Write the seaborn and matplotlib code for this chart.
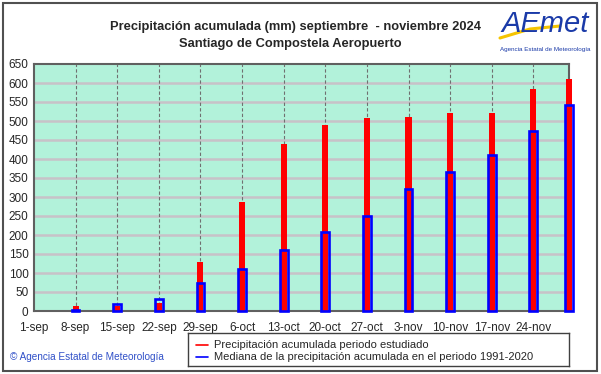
import numpy as np
import pandas as pd
import matplotlib
matplotlib.use("Agg")
import matplotlib.pyplot as plt
import seaborn as sns

# Data (mm)
fechas = ["2024-09-08", "2024-09-15", "2024-09-22", "2024-09-29", "2024-10-06",
          "2024-10-13", "2024-10-20", "2024-10-27", "2024-11-03", "2024-11-10",
          "2024-11-17", "2024-11-24", "2024-11-30"]
precip_2024 = [13, 14, 21, 128, 287, 439, 489, 508, 510, 520, 522, 583, 610]
mediana_9120 = [3, 19, 32, 75, 111, 160, 209, 249, 320, 365, 411, 474, 542]
etiquetas_x = ["1-sep", "8-sep", "15-sep", "22-sep", "29-sep", "6-oct", "13-oct",
               "20-oct", "27-oct", "3-nov", "10-nov", "17-nov", "24-nov"]

inicio = pd.Timestamp("2024-09-01")
dias = [(pd.Timestamp(f) - inicio).days for f in fechas]
df = pd.DataFrame({"dia": dias, "precip": precip_2024, "mediana": mediana_9120})

sns.set_theme(style="white")
plt.rcParams["font.family"] = ["Liberation Sans", "DejaVu Sans"]

fig = plt.figure(figsize=(6.01, 3.74), dpi=100)
fig.patch.set_facecolor("white")
ax = fig.add_axes([34 / 601, 1 - 311 / 374, 535 / 601, 247 / 374])
ax.set_facecolor("#b2f2da")

# grid
for v in range(50, 650, 50):
    ax.axhline(v, color="#c8c2c8", lw=1.8, zorder=1)
for d in range(7, 90, 7):
    ax.axvline(d, color="#707070", lw=0.8, ls=(0, (3, 2)), zorder=1)

# bars: native scale so they sit on the day axis (min spacing = 6 days)
sns.barplot(data=df, x="dia", y="precip", native_scale=True, width=0.17,
            color="#ff0000", saturation=1, edgecolor="none", ax=ax, zorder=3)
sns.barplot(data=df, x="dia", y="mediana", native_scale=True, width=0.215,
            fill=False, color="#0000ff", linewidth=1.9, ax=ax, zorder=4)
for i, p in enumerate(ax.patches):
    p.set_clip_on(False)
    if i >= len(df):
        p.set_edgecolor("#0000ff")
        p.set_facecolor("none")

ax.set_xlim(0, 90)
ax.set_ylim(0, 650)
ax.set_yticks(range(0, 651, 50))
ax.set_xticks(range(0, 85, 7))
ax.set_xticklabels(etiquetas_x, fontsize=8.5)
ax.tick_params(axis="y", labelsize=8.5, length=0, pad=4)
ax.tick_params(axis="x", length=0, pad=8)
ax.set_xlabel("")
ax.set_ylabel("")
for s in ax.spines.values():
    s.set_color("#606060")
    s.set_linewidth(1.5)
    s.set_zorder(2)

# titles
fig.text(295 / 601, 1 - 27 / 374, "Precipitación acumulada (mm) septiembre  - noviembre 2024",
         ha="center", va="center", fontsize=9.3, fontweight="bold")
fig.text(290 / 601, 1 - 44 / 374, "Santiago de Compostela Aeropuerto",
         ha="center", va="center", fontsize=9.3, fontweight="bold")

# logo
fig.text(545 / 601, 1 - 24 / 374, "AEmet", ha="center", va="center", fontsize=21,
         style="italic", color="#1a3aa8")
fig.add_artist(plt.Line2D([500 / 601, 530 / 601, 560 / 601], [1 - 38 / 374, 1 - 29 / 374, 1 - 26 / 374],
                          color="#f5c400", lw=2.2))
fig.text(545 / 601, 1 - 50 / 374, "Agencia Estatal de Meteorología", ha="center",
         va="center", fontsize=4.5, color="#1a3aa8")

# legend box
leg_ax = fig.add_axes([188 / 601, 1 - 366 / 374, 381 / 601, 33 / 374])
leg_ax.set_xlim(0, 381)
leg_ax.set_ylim(33, 0)
leg_ax.set_xticks([])
leg_ax.set_yticks([])
for s in leg_ax.spines.values():
    s.set_color("#404040")
    s.set_linewidth(1)
leg_ax.plot([8, 20], [12, 12], color="#ff0000", lw=1.2)
leg_ax.plot([8, 20], [24, 24], color="#0000ff", lw=1.2)
leg_ax.text(26, 12, "Precipitación acumulada periodo estudiado", va="center", fontsize=8)
leg_ax.text(26, 24, "Mediana de la precipitación acumulada en el periodo 1991-2020",
            va="center", fontsize=8)

fig.text(10 / 601, 1 - 357 / 374, "© Agencia Estatal de Meteorología", ha="left",
         va="center", fontsize=7.2, color="#3050c8")

# outer frame
fig.add_artist(plt.Rectangle((3 / 601, 3 / 374), 594 / 601, 368 / 374, fill=False,
                             edgecolor="#505050", lw=1.5, transform=fig.transFigure))

fig.savefig("out.png", dpi=100)
